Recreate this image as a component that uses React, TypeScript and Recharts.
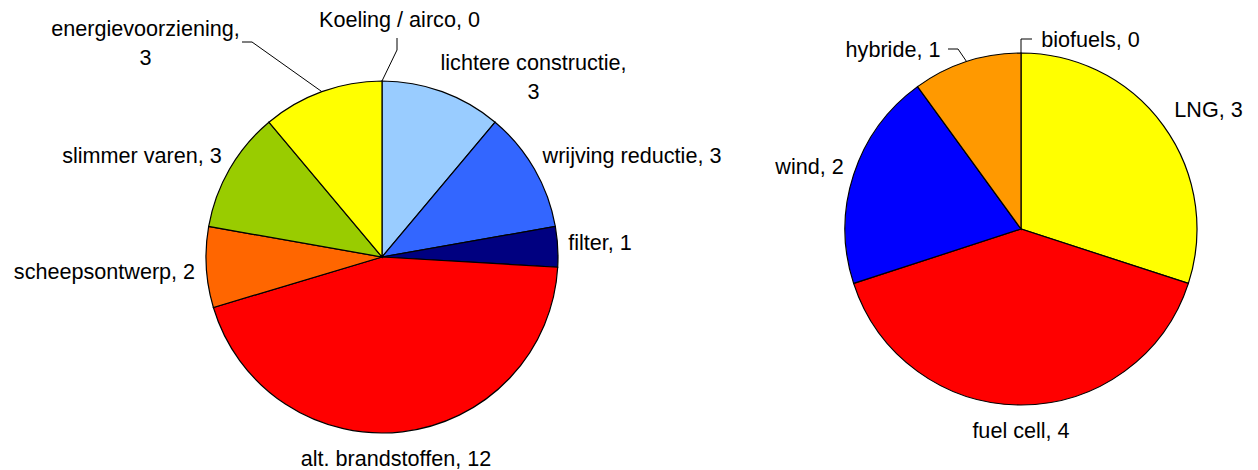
import { PieChart, Pie, Cell } from 'recharts';

// left pie: maatregelen
const leftNames = [
  'Koeling / airco',
  'lichtere constructie',
  'wrijving reductie',
  'filter',
  'alt. brandstoffen',
  'scheepsontwerp',
  'slimmer varen',
  'energievoorziening',
];
const leftValues = [0, 3, 3, 1, 12, 2, 3, 3];
const leftColors = ['#FFFF99', '#99CCFF', '#3366FF', '#000080', '#FF0000', '#FF6600', '#99CC00', '#FFFF00'];

// right pie: brandstoffen
const rightNames = ['biofuels', 'LNG', 'fuel cell', 'wind', 'hybride'];
const rightValues = [0, 3, 4, 2, 1];
const rightColors = ['#00FF00', '#FFFF00', '#FF0000', '#0000FF', '#FF9900'];

const leftData = leftNames.map((name, i) => ({ name, value: leftValues[i] }));
const rightData = rightNames.map((name, i) => ({ name, value: rightValues[i] }));

const RADIAN = Math.PI / 180;
const FONT = '"Liberation Sans", Arial, sans-serif';
const FONT_SIZE = 21.6;

type LabelLayout = { dx: number; dy: number; wrap?: boolean; leader?: [number, number][] };

// label placement relative to pie centre
const leftLabels: Record<string, LabelLayout> = {
  'Koeling / airco': { dx: 17.5, dy: -230, leader: [[15, -207], [15, -219]] },
  'lichtere constructie': { dx: 151.5, dy: -187, wrap: true },
  'wrijving reductie': { dx: 250, dy: -94 },
  filter: { dx: 218, dy: -7 },
  'alt. brandstoffen': { dx: 14, dy: 209 },
  scheepsontwerp: { dx: -277.5, dy: 22 },
  'slimmer varen': { dx: -240, dy: -94 },
  energievoorziening: { dx: -236.5, dy: -221, wrap: true, leader: [[-130, -215], [-140, -215]] },
};

const rightLabels: Record<string, LabelLayout> = {
  biofuels: { dx: 69.5, dy: -182, leader: [[0, -190], [11, -190]] },
  LNG: { dx: 187.5, dy: -112 },
  'fuel cell': { dx: 0, dy: 209 },
  wind: { dx: -211.5, dy: -55 },
  hybride: { dx: -128, dy: -172, leader: [[-63, -180], [-73, -180]] },
};

function makeLabel(layout: Record<string, LabelLayout>) {
  return (props: any) => {
    const { cx, cy, midAngle, outerRadius, index } = props;
    const name = props.name ?? props.payload?.name;
    const value = props.value ?? props.payload?.value;
    const l = layout[name];
    if (!l) return null;
    const ex = cx + outerRadius * Math.cos(-midAngle * RADIAN);
    const ey = cy + outerRadius * Math.sin(-midAngle * RADIAN);
    const tx = cx + l.dx;
    const ty = cy + l.dy;
    const pts = l.leader
      ? [[ex, ey], ...l.leader.map(([x, y]) => [cx + x, cy + y])].map((p) => p.join(',')).join(' ')
      : null;
    return (
      <g key={`lbl-${index}`}>
        {pts && <polyline points={pts} fill="none" stroke="#000" strokeWidth={1} />}
        <text x={tx} y={ty} textAnchor="middle" fontSize={FONT_SIZE} fontFamily={FONT} fill="#000">
          {l.wrap ? (
            <>
              <tspan x={tx}>{name},</tspan>
              <tspan x={tx} dy={29}>
                {value}
              </tspan>
            </>
          ) : (
            `${name}, ${value}`
          )}
        </text>
      </g>
    );
  };
}

export default function App() {
  return (
    <div style={{ position: 'absolute', left: 0, top: 0, background: '#fff' }}>
      <PieChart width={1258} height={470} margin={{ top: 0, right: 0, bottom: 0, left: 0 }}>
        <Pie
          data={leftData}
          dataKey="value"
          nameKey="name"
          cx={382}
          cy={257}
          outerRadius={176}
          startAngle={90}
          endAngle={-270}
          stroke="#000"
          strokeWidth={1.2}
          label={makeLabel(leftLabels)}
          labelLine={false}
          isAnimationActive={false}
        >
          {leftData.map((d, i) => (
            <Cell key={d.name} fill={leftColors[i]} />
          ))}
        </Pie>
        <Pie
          data={rightData}
          dataKey="value"
          nameKey="name"
          cx={1021}
          cy={229}
          outerRadius={176}
          startAngle={90}
          endAngle={-270}
          stroke="#000"
          strokeWidth={1.2}
          label={makeLabel(rightLabels)}
          labelLine={false}
          isAnimationActive={false}
        >
          {rightData.map((d, i) => (
            <Cell key={d.name} fill={rightColors[i]} />
          ))}
        </Pie>
      </PieChart>
    </div>
  );
}
